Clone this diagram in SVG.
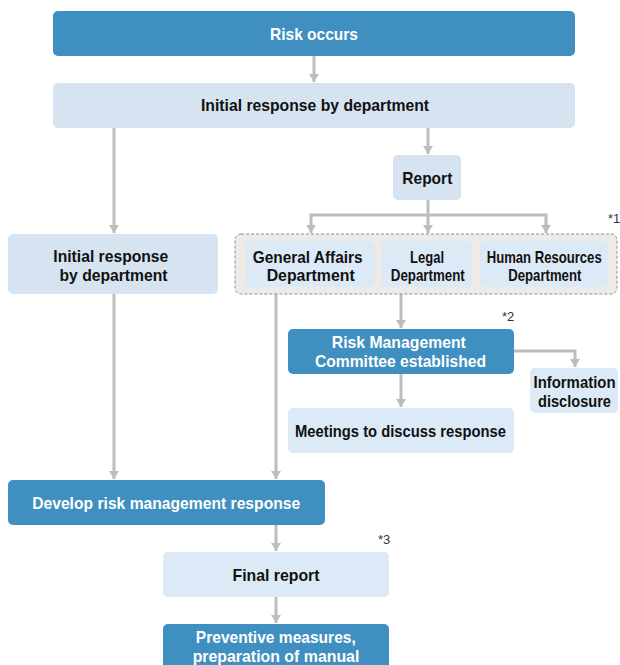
<svg xmlns="http://www.w3.org/2000/svg" width="620" height="665" viewBox="0 0 620 665">
<style>
  .dark { fill: #3f8fc0; }
  .light { fill: #d6e3f0; }
  .pale { fill: #dce9f6; }
  .t { font-family: "Liberation Sans", Arial, sans-serif; font-weight: bold; font-size: 17px; text-anchor: middle; }
  .w { fill: #ffffff; }
  .k { fill: #111111; }
  .note { font-family: "Liberation Sans", Arial, sans-serif; font-size: 13px; fill: #333333; }
  .c { fill: none; stroke: #bdbdbd; stroke-width: 3; }
</style>
<defs>
  <marker id="arr" viewBox="0 0 8 10" refX="8" refY="5" markerWidth="8" markerHeight="10" orient="auto" markerUnits="userSpaceOnUse">
    <path d="M0,0 L8,5 L0,10 Z" fill="#bdbdbd"/>
  </marker>
</defs>

<g id="connectors">
  <path class="c" d="M314,56 V82" marker-end="url(#arr)"/>
  <path class="c" d="M114,128 V233" marker-end="url(#arr)"/>
  <path class="c" d="M428,128 V154" marker-end="url(#arr)"/>
  <path class="c" d="M428,200 V233" marker-end="url(#arr)"/>
  <path class="c" d="M311,226 V215 H546 V226"/>
  <path class="c" d="M311,224 V233" marker-end="url(#arr)"/>
  <path class="c" d="M546,224 V233" marker-end="url(#arr)"/>
  <path class="c" d="M401,294 V328" marker-end="url(#arr)"/>
  <path class="c" d="M514,351 H575 V367" marker-end="url(#arr)"/>
  <path class="c" d="M401,374 V407" marker-end="url(#arr)"/>
  <path class="c" d="M114,294 V479" marker-end="url(#arr)"/>
  <path class="c" d="M276,294 V479" marker-end="url(#arr)"/>
  <path class="c" d="M276,525 V551" marker-end="url(#arr)"/>
  <path class="c" d="M276,597 V623" marker-end="url(#arr)"/>
</g>

<g id="risk-occurs">
  <rect class="dark" x="53" y="11" width="522" height="45" rx="5"/>
  <text class="t w" x="314" y="40" textLength="88" lengthAdjust="spacingAndGlyphs">Risk occurs</text>
</g>

<g id="initial-response-top">
  <rect class="light" x="53" y="83" width="522" height="45" rx="5"/>
  <text class="t k" x="315" y="111" textLength="228" lengthAdjust="spacingAndGlyphs">Initial response by department</text>
</g>

<g id="report">
  <rect class="light" x="393" y="155" width="68" height="45" rx="5"/>
  <text class="t k" x="427.3" y="183.5" textLength="50" lengthAdjust="spacingAndGlyphs">Report</text>
</g>

<g id="initial-response-left">
  <rect class="light" x="8" y="234" width="210" height="60" rx="5"/>
  <text class="t k" x="110.8" y="261.5" textLength="115" lengthAdjust="spacingAndGlyphs">Initial response</text>
  <text class="t k" x="113.5" y="281" textLength="108" lengthAdjust="spacingAndGlyphs">by department</text>
</g>

<g id="departments">
  <rect x="235" y="234" width="382" height="60" rx="6" fill="#eeebe7" stroke="#8f8f8f" stroke-width="1" stroke-dasharray="3,2"/>
  <text class="note" x="608" y="223">*1</text>
</g>

<g id="general-affairs">
  <rect class="pale" x="246" y="241" width="129" height="46" rx="5"/>
  <text class="t k" x="307.7" y="262.5" textLength="110" lengthAdjust="spacingAndGlyphs">General Affairs</text>
  <text class="t k" x="310.7" y="281" textLength="88" lengthAdjust="spacingAndGlyphs">Department</text>
</g>

<g id="legal">
  <rect class="pale" x="382" y="241" width="90" height="46" rx="5"/>
  <text class="t k" x="427" y="262.5" textLength="34" lengthAdjust="spacingAndGlyphs">Legal</text>
  <text class="t k" x="427.8" y="281" textLength="74" lengthAdjust="spacingAndGlyphs">Department</text>
</g>

<g id="human-resources">
  <rect class="pale" x="480" y="241" width="128" height="46" rx="5"/>
  <text class="t k" x="544.2" y="262.5" textLength="115" lengthAdjust="spacingAndGlyphs">Human Resources</text>
  <text class="t k" x="544.8" y="281" textLength="73" lengthAdjust="spacingAndGlyphs">Department</text>
</g>

<g id="committee">
  <rect class="dark" x="288" y="329" width="226" height="45" rx="5"/>
  <text class="t w" x="398.8" y="348" textLength="134" lengthAdjust="spacingAndGlyphs">Risk Management</text>
  <text class="t w" x="400.5" y="366.7" textLength="171" lengthAdjust="spacingAndGlyphs">Committee established</text>
  <text class="note" x="502" y="321">*2</text>
</g>

<g id="information-disclosure">
  <rect class="pale" x="530" y="368" width="88" height="45" rx="5"/>
  <text class="t k" x="574.5" y="388" textLength="82" lengthAdjust="spacingAndGlyphs">Information</text>
  <text class="t k" x="574.5" y="406.7" textLength="73" lengthAdjust="spacingAndGlyphs">disclosure</text>
</g>

<g id="meetings">
  <rect class="pale" x="288" y="408" width="226" height="45" rx="5"/>
  <text class="t k" x="400.5" y="437" textLength="211" lengthAdjust="spacingAndGlyphs">Meetings to discuss response</text>
</g>

<g id="develop-response">
  <rect class="dark" x="8" y="480" width="317" height="45" rx="5"/>
  <text class="t w" x="166.2" y="509.3" textLength="268" lengthAdjust="spacingAndGlyphs">Develop risk management response</text>
</g>

<g id="final-report">
  <rect class="pale" x="163" y="552" width="226" height="45" rx="5"/>
  <text class="t k" x="276" y="580.7" textLength="87" lengthAdjust="spacingAndGlyphs">Final report</text>
  <text class="note" x="378" y="544">*3</text>
</g>

<g id="preventive-measures">
  <rect class="dark" x="163" y="624" width="226" height="50" rx="5"/>
  <text class="t w" x="275.8" y="643.3" textLength="160" lengthAdjust="spacingAndGlyphs">Preventive measures,</text>
  <text class="t w" x="276" y="661.5" textLength="166.7" lengthAdjust="spacingAndGlyphs">preparation of manual</text>
</g>
</svg>
